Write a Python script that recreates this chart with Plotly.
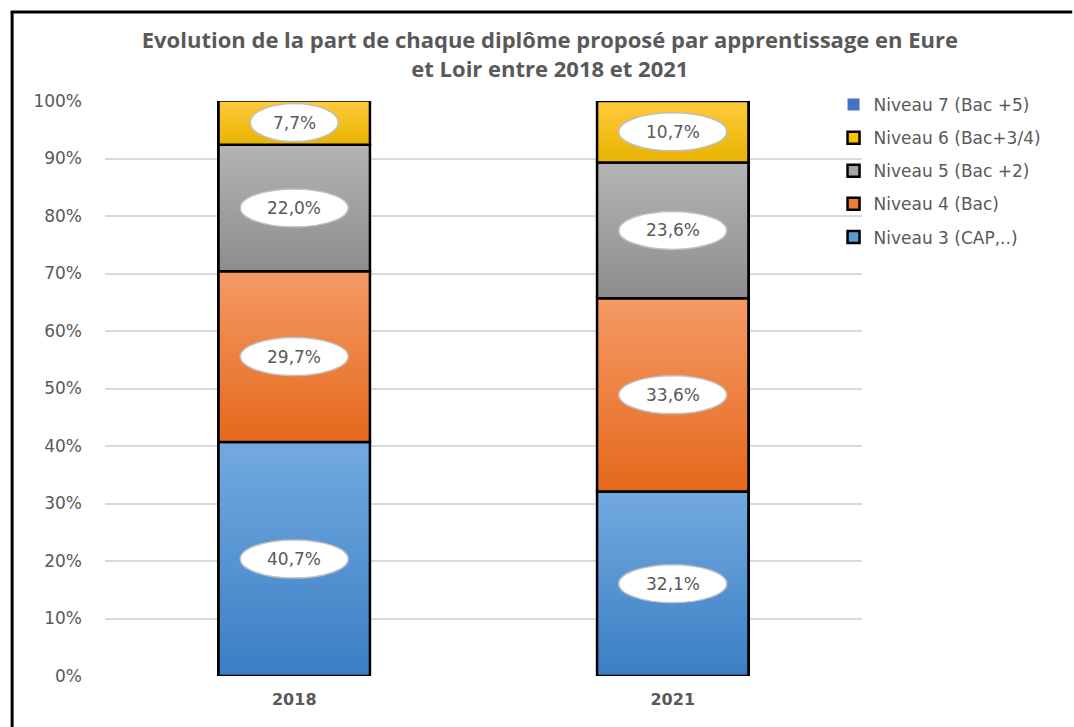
import plotly.graph_objects as go

# ---- data ----
years = ["2018", "2021"]
series_names = ["Niveau 3 (CAP,..)", "Niveau 4 (Bac)", "Niveau 5 (Bac +2)",
                "Niveau 6 (Bac+3/4)", "Niveau 7 (Bac +5)"]
niveau3 = [40.7, 32.1]
niveau4 = [29.7, 33.6]
niveau5 = [22.0, 23.6]
niveau6 = [7.7, 10.7]
niveau7 = [0.0, 0.0]
series_values = [niveau3, niveau4, niveau5, niveau6, niveau7]
y_ticks = [0, 10, 20, 30, 40, 50, 60, 70, 80, 90, 100]
y_tick_labels = [f"{v}%" for v in y_ticks]

# ---- styles ----
base_colors = ["#5b9bd5", "#ed7d31", "#a5a5a5", "#ffc000", "#4472c4"]
grad_top = ["#72aae0", "#f59a66", "#b4b4b4", "#ffcb3d", None]
grad_bot = ["#3b7ec4", "#e5681c", "#8d8d8d", "#e8b300", None]
show_labels = [True, True, True, True, False]
TXT = "#595959"
FONT = "DejaVu Sans"
BAR_W = 0.4
xpos = list(range(len(years)))
nser = len(series_names)

fig = go.Figure()

# bars (structure + legend)
for k, (name, vals) in enumerate(zip(series_names, series_values)):
    fig.add_trace(go.Bar(
        x=xpos, y=vals, name=name, width=BAR_W,
        marker=dict(color=base_colors[k],
                    line=dict(color="black", width=2.5 if k < 4 else 0)),
        legendgroup=name, legendrank=nser - k, showlegend=True,
    ))

# gradient overlays computed from stacked data
cum = [0.0 for _ in years]
segments = []
for k, vals in enumerate(series_values):
    for i, v in enumerate(vals):
        b = cum[i]
        t = b + v
        if v > 0 and grad_top[k]:
            fig.add_trace(go.Scatter(
                x=[xpos[i] - BAR_W / 2, xpos[i] + BAR_W / 2, xpos[i] + BAR_W / 2,
                   xpos[i] - BAR_W / 2, xpos[i] - BAR_W / 2],
                y=[b, b, t, t, b],
                mode="lines", fill="toself",
                fillgradient=dict(type="vertical",
                                  colorscale=[[0, grad_bot[k]], [1, grad_top[k]]]),
                line=dict(color="black", width=2.5),
                showlegend=False, legendgroup=series_names[k],
                legendrank=nser - k, hoverinfo="skip",
            ))
            if show_labels[k]:
                segments.append((xpos[i], (b + t) / 2, v))
        cum[i] = t

# ellipse labels
for x, ymid, v in segments:
    txt = f"{v:.1f}%".replace(".", ",")
    w = 20 * len(txt) + 8
    fig.add_shape(type="circle", xref="x", yref="y",
                  xsizemode="pixel", ysizemode="pixel",
                  xanchor=x, yanchor=ymid,
                  x0=-w / 2, x1=w / 2, y0=-19, y1=19,
                  fillcolor="white", line=dict(color="#bfbfbf", width=1.5),
                  layer="above")
    fig.add_annotation(x=x, y=ymid, xref="x", yref="y", text=txt,
                       showarrow=False,
                       font=dict(family=FONT, size=17, color=TXT))

# outer frame (left and top lines)
L, R, T, B = 104.5, 1074 - 862.5, 101, 727 - 676
PW, PH = 1074 - L - R, 727 - T - B
def px(xp): return (xp - L) / PW
def py(yp): return (727 - B - yp) / PH
fig.add_shape(type="line", xref="paper", yref="paper",
              x0=px(11.5), x1=px(11.5), y0=py(12), y1=py(727),
              line=dict(color="black", width=3))
fig.add_shape(type="line", xref="paper", yref="paper",
              x0=px(10), x1=px(1073), y0=py(12), y1=py(12),
              line=dict(color="black", width=3))

fig.update_layout(
    width=1074, height=727,
    margin=dict(l=L, r=R, t=T, b=B),
    paper_bgcolor="white", plot_bgcolor="white",
    barmode="stack",
    hovermode=False,
    title=dict(
        text="Evolution de la part de chaque diplôme proposé par apprentissage en Eure<br>et Loir entre 2018 et 2021",
        x=0.512, xanchor="center", y=1 - 48 / 727, yanchor="top",
        font=dict(family="Open Sans", size=22, color=TXT, weight="bold"),
    ),
    xaxis=dict(range=[-0.5, 1.5], tickvals=xpos, ticktext=years,
               showgrid=False, zeroline=False, showline=False,
               tickfont=dict(family=FONT, size=16, color=TXT, weight="bold"),
               ticklabelstandoff=12),
    yaxis=dict(range=[0, 100], tickvals=y_ticks, ticktext=y_tick_labels,
               showgrid=True, gridcolor="#d9d9d9", gridwidth=1.5,
               zeroline=False, showline=False,
               tickfont=dict(family=FONT, size=17, color=TXT),
               ticklabelstandoff=22),
    legend=dict(x=px(834), xanchor="left", y=py(87), yanchor="top",
                traceorder="grouped", tracegroupgap=8,
                font=dict(family=FONT, size=17, color=TXT),
                bgcolor="rgba(0,0,0,0)"),
)

fig.write_html("out.html")
